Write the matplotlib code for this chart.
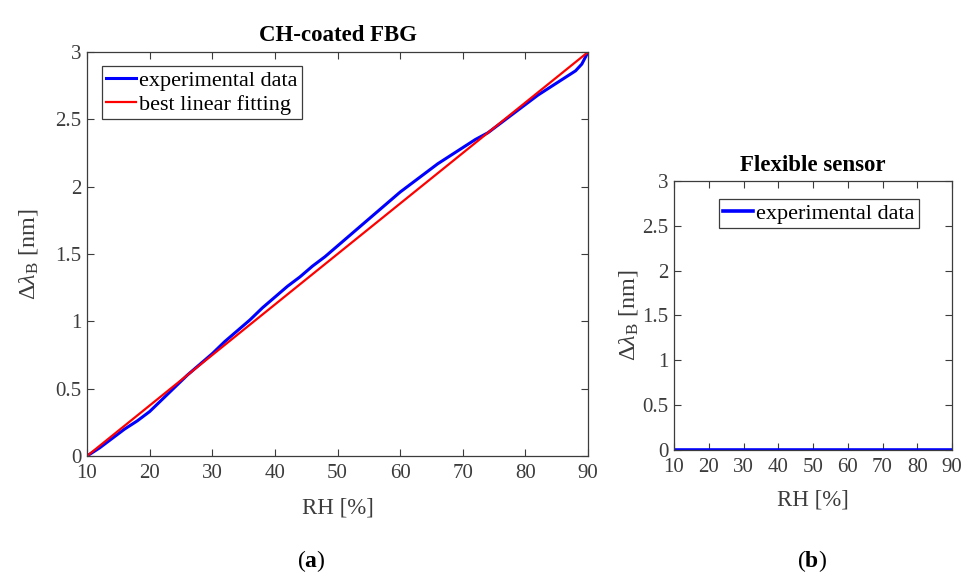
import matplotlib
matplotlib.use("Agg")
import matplotlib.pyplot as plt

plt.rcParams['font.family'] = ['Liberation Serif', 'DejaVu Serif']
plt.rcParams['mathtext.fontset'] = 'custom'
plt.rcParams['mathtext.rm'] = 'Liberation Serif'
plt.rcParams['mathtext.it'] = 'Liberation Serif:italic'
plt.rcParams['mathtext.bf'] = 'Liberation Serif:bold'

# data
rh_exp = [10, 12, 14, 16, 18, 20, 22, 24, 26, 28, 30, 32, 34, 36, 38, 40, 42, 44,
          46, 48, 50, 52, 54, 56, 58, 60, 62, 64, 66, 68, 70, 72, 74, 76, 78, 80,
          82, 84, 86, 88, 89, 90]
dl_exp = [0.00, 0.06, 0.13, 0.20, 0.26, 0.33, 0.42, 0.51, 0.60, 0.68, 0.76, 0.85,
          0.93, 1.01, 1.10, 1.18, 1.26, 1.33, 1.41, 1.48, 1.56, 1.64, 1.72, 1.80,
          1.88, 1.96, 2.03, 2.10, 2.17, 2.23, 2.29, 2.35, 2.40, 2.47, 2.54, 2.61,
          2.68, 2.74, 2.80, 2.86, 2.91, 3.00]
rh_fit = [10, 90]
dl_fit = [0.0, 3.0]

rh_flex = [10, 90]
dl_flex = [0.0, 0.0]

x_ticks = [10, 20, 30, 40, 50, 60, 70, 80, 90]
y_ticks = [0, 0.5, 1, 1.5, 2, 2.5, 3]
y_ticklabels = ['0', '0.5', '1', '1.5', '2', '2.5', '3']

axis_col = '#3c3c3c'
ylab = r'$\Delta\lambda_{\mathrm{B}}$ [nm]'


def style(ax, ypad, xpad):
    ax.set_xlim(10, 90)
    ax.set_ylim(0, 3)
    ax.set_xticks(x_ticks)
    ax.set_yticks(y_ticks)
    ax.set_yticklabels(y_ticklabels)
    ax.tick_params(direction='in', top=True, right=True, length=5, width=0.8,
                   colors=axis_col, labelsize=15)
    ax.tick_params(axis='x', pad=6)
    ax.tick_params(axis='y', pad=4)
    for s in ax.spines.values():
        s.set_color(axis_col)
        s.set_linewidth(0.9)
    ax.set_xlabel('RH [%]', fontsize=16.5, color=axis_col, labelpad=xpad)
    ax.set_ylabel(ylab, fontsize=17.5, color=axis_col, labelpad=ypad)


def legend(ax, loc, anchor):
    leg = ax.legend(loc=loc, bbox_to_anchor=anchor, fontsize=16,
                    handlelength=1.35, handletextpad=0.12, borderpad=0.2,
                    labelspacing=0.15, fancybox=False, framealpha=1,
                    borderaxespad=0)
    leg.get_frame().set_edgecolor(axis_col)
    leg.get_frame().set_linewidth(0.9)


fig = plt.figure(figsize=(9.68, 5.72), dpi=100)

# (a) CH-coated FBG
ax1 = fig.add_axes([0.0899, 0.2028, 0.5176, 0.7063])
ax1.plot(rh_exp, dl_exp, color='blue', lw=2.2, label='experimental data')
ax1.plot(rh_fit, dl_fit, color='red', lw=1.6, label='best linear fitting')
style(ax1, 11, 10)
ax1.set_title('CH-coated FBG', fontsize=16.5, fontweight='bold', pad=8)
legend(ax1, 'upper left', (0.030, 0.965))

# (b) Flexible sensor
ax2 = fig.add_axes([0.6963, 0.2133, 0.2872, 0.4703])
ax2.plot(rh_flex, dl_flex, color='blue', lw=2.6, label='experimental data')
style(ax2, 2, 9)
ax2.set_title('Flexible sensor', fontsize=16.5, fontweight='bold', pad=7)
legend(ax2, 'upper right', (0.881, 0.933))

fig.text(0.322, 0.020, r'($\mathbf{a}$)', ha='center', va='center', fontsize=17, color='black')
fig.text(0.839, 0.020, r'($\mathbf{b}$)', ha='center', va='center', fontsize=17, color='black')

fig.savefig('out.png', dpi=100)
